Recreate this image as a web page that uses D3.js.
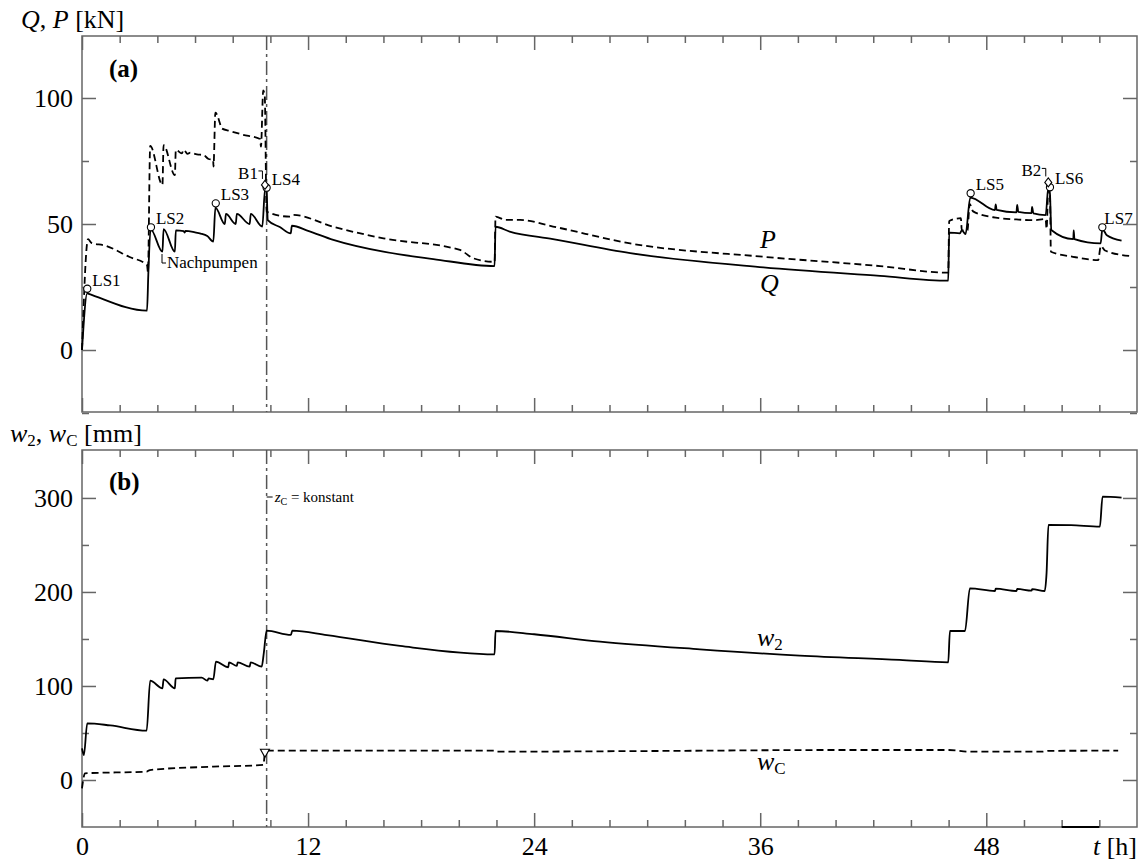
<!DOCTYPE html>
<meta charset="utf-8">
<body style="margin:0;background:#fff">
<div id="chart"></div>
<script src="https://d3js.org/d3.v7.min.js"></script>
<script>

// (a) forces, [t h, kN]
var qData = [[0,0],[0.28,22.5],[0.32,22.4],[3.45,15.6],[3.52,30],[3.64,48],[4.27,39],[4.33,48],[4.93,39],[4.98,47.5],
  [5.4,47.2],[5.45,46.6],[5.5,47.3],[6.0,46.7],[6.3,46.2],[6.65,45.2],[6.97,43],[7.08,56.5],[7.58,50],[7.64,54],[8.16,50],[8.22,54],
  [8.9,50],[8.96,54],[9.57,49],[9.72,64],[9.8,63],[9.86,51.5],[10.5,48.8],[11.08,46.3],[11.14,49.3],[12.0,47.3],
  [13.34,43.7],[16.0,39],[18.65,36.1],[21.9,33.3],[21.95,48.9],[22.7,47],[25,44],[29.1,38.4],[36.17,32.8],[42.36,29.4],
  [45.98,27.5],[46.03,46.6],[46.6,46.3],[46.7,47.5],[46.9,46],[47.15,60.5],[48.46,55.5],[48.5,57.8],[48.55,55.6],[49.6,54.6],
  [49.64,57.6],[49.7,54.8],[50.4,54.3],[50.43,56.8],[50.5,54.2],[51.15,53.5],[51.3,65],[51.38,62],[51.45,47.6],[52.62,44],
  [52.64,47.5],[52.68,44],[54.07,42.3],[54.16,48],[54.4,45.5],[55.18,43.4]];

var pData = [[0,0],[0.32,44],[0.5,42.5],[1.2,41.5],[2.5,37],[3.45,33.7],[3.5,31],[3.62,81],[4.27,65.5],[4.33,81.3],
  [4.93,69.4],[4.98,79.4],[5.3,78],[5.4,79.5],[5.6,77.8],[5.75,78.3],[6.1,77.6],[6.44,77.4],[6.72,75.8],[6.96,75.5],
  [6.98,72.8],[7.08,94.2],[7.32,90],[7.4,88],[7.86,86.9],[8.5,85.5],[9.45,83.7],[9.5,80.7],[9.62,103],[9.7,101],
  [9.8,54.9],[11.04,52.9],[11.2,53.6],[13.34,48.9],[16,44.3],[20.06,39.7],[20.77,36.4],[21.9,35],[21.95,52.9],
  [22.5,51.6],[23.25,51.6],[25,49],[29.1,42.3],[36.17,37],[42.36,33.3],[45.98,30.7],[46.03,51.2],[46.65,52.3],
  [46.7,47.5],[47.0,47.5],[47.12,58],[47.3,55],[48.5,52.5],[49.6,51.8],[50.5,51.5],[51.15,52],[51.2,48],[51.3,66],
  [51.38,62],[51.43,39],[52.6,37],[53.94,35.7],[54.08,41.3],[54.3,39.5],[55.6,37.3]];

// (b) displacements, [t h, mm]
var w2Data = [[0,33.7],[0.1,26.6],[0.28,60.3],[1.5,58],[3.43,52.5],[3.62,105.7],[4.27,97.5],[4.33,107],[4.93,97.5],
  [4.97,108.1],[6.35,108.9],[6.65,105.7],[6.72,108],[6.97,107.1],[7.11,125.9],[7.77,119.9],[7.8,125.2],[8.22,121.3],
  [8.26,125.2],[8.9,120.6],[8.95,125],[9.54,120.6],[9.65,135],[9.8,158.8],[11.09,154.3],[11.16,158.8],[13,154],
  [16.88,142.6],[21.9,133.7],[21.95,158.5],[24,155],[27.5,147.2],[32.8,139],[38.1,132.3],[43.4,127.7],[45.98,125.2],
  [46.07,158.5],[46.87,158.5],[47.13,203.9],[48.46,201],[48.5,203.5],[49.6,201],[49.64,203.2],[50.4,201.4],[50.44,203],
  [51.1,201],[51.2,220.3],[51.3,271.3],[52.5,271],[54.03,269.5],[54.17,301.4],[55.18,300.3]];

var wcData = [[0,-8.9],[0.16,7.1],[3.43,8.9],[3.6,10.6],[6.97,14.2],[9.63,16],[9.71,28.4],[9.89,31.2],[21.9,31.2],
  [22,30.1],[30,30.8],[40,31.9],[46,31.9],[47.13,30.1],[51,30.1],[51.3,31],[55.0,31.2]];
var wcOffData = [[52,-50],[54,-50]];

// markers
var lsNames = ["LS1","LS2","LS3","LS4","LS5","LS6","LS7"];
var lsT = [0.28,3.66,7.1,9.8,47.17,51.38,54.16];
var lsQ = [24.3,48.7,58.2,64.4,62.2,64.6,48.7];
var bNames = ["B1","B2"];
var bT = [9.71,51.29];
var bQ = [65.5,66.5];
var zcT = 9.8;        // z_C = konstant from here on
var zcMarkW = 28.4;

var xMajor = [0,12,24,36,48];
var xMinor = d3.range(2,56,2).filter(function(d){ return d % 12 != 0; });
var yTopMajor = [0,50,100];
var yTopMinor = [-25,25,75];
var yBotMajor = [0,100,200,300];
var yBotMinor = [50,150,250];

var W = 1141, H = 861;
var font = "Liberation Serif, Times New Roman, serif";
var frameCol = "#666";

var svg = d3.select("#chart").append("svg")
  .attr("width", W).attr("height", H)
  .style("font-family", font);

var x = d3.scaleLinear().domain([0,56]).range([82,1137]);
var yA = d3.scaleLinear().domain([-24.6,124.6]).range([412,36]);
var yB = d3.scaleLinear().domain([-50,351]).range([827,450]);

function frame(y, top, bottom, yMaj, yMin) {
  var g = svg.append("g");
  // x ticks, top edge (pointing down) and bottom edge (pointing up)
  g.append("g").attr("transform","translate(0,"+top+")")
    .call(d3.axisBottom(x).tickValues(xMajor).tickSize(14).tickFormat(""));
  g.append("g").attr("transform","translate(0,"+top+")")
    .call(d3.axisBottom(x).tickValues(xMinor).tickSize(7).tickFormat(""));
  g.append("g").attr("transform","translate(0,"+bottom+")")
    .call(d3.axisTop(x).tickValues(xMajor).tickSize(14).tickFormat(""));
  g.append("g").attr("transform","translate(0,"+bottom+")")
    .call(d3.axisTop(x).tickValues(xMinor).tickSize(7).tickFormat(""));
  // y ticks left and right
  g.append("g").attr("transform","translate(82,0)")
    .call(d3.axisRight(y).tickValues(yMaj).tickSize(14).tickFormat(""));
  g.append("g").attr("transform","translate(82,0)")
    .call(d3.axisRight(y).tickValues(yMin).tickSize(7).tickFormat(""));
  g.append("g").attr("transform","translate(1137,0)")
    .call(d3.axisLeft(y).tickValues(yMaj).tickSize(14).tickFormat(""));
  g.append("g").attr("transform","translate(1137,0)")
    .call(d3.axisLeft(y).tickValues(yMin).tickSize(7).tickFormat(""));
  g.selectAll(".domain").remove();
  g.selectAll(".tick line").attr("stroke", frameCol).attr("stroke-width", 1.5);
  // labels
  var lab = g.append("g").attr("transform","translate(82,0)")
    .call(d3.axisLeft(y).tickValues(yMaj).tickSize(0).tickPadding(9).tickFormat(d3.format("d")));
  lab.select(".domain").remove();
  lab.selectAll("text").attr("font-family", font).attr("font-size", 26).attr("fill","#000");
  g.append("rect").attr("x",82).attr("y",top).attr("width",1137-82).attr("height",bottom-top)
    .attr("fill","none").attr("stroke",frameCol).attr("stroke-width",1.5);
  return g;
}

frame(yA, 36, 412, yTopMajor, yTopMinor);
frame(yB, 450, 827, yBotMajor, yBotMinor);

// x labels
var xl = svg.append("g").attr("transform","translate(0,827)")
  .call(d3.axisBottom(x).tickValues(xMajor).tickSize(0).tickPadding(10).tickFormat(d3.format("d")));
xl.select(".domain").remove();
xl.selectAll("text").attr("font-family", font).attr("font-size", 26).attr("fill","#000");

// dash-dot lines at z_C
[[36,412],[450,827]].forEach(function(r) {
  svg.append("line").attr("x1",x(zcT)).attr("x2",x(zcT)).attr("y1",r[0]).attr("y2",r[1])
    .attr("stroke","#555").attr("stroke-width",1.5).attr("stroke-dasharray","14,4,3,4");
});

function curve(data, y, dash) {
  svg.append("path").datum(data)
    .attr("d", d3.line().curve(d3.curveMonotoneX)
      .x(function(d){return x(d[0]);}).y(function(d){return y(d[1]);}))
    .attr("fill","none").attr("stroke","#000").attr("stroke-width",1.8)
    .attr("stroke-linejoin","round")
    .attr("stroke-dasharray", dash || null);
}

curve(pData, yA, "7,4");
curve(qData, yA);
curve(w2Data, yB);
curve(wcData, yB, "7,4");
curve(wcOffData, yB);

// LS markers
lsNames.forEach(function(n, i) {
  var cx = x(lsT[i]), cy = yA(lsQ[i]);
  svg.append("circle").attr("cx",cx).attr("cy",cy).attr("r",3.6)
    .attr("fill","#fff").attr("stroke","#000").attr("stroke-width",1.1);
  svg.append("text").attr("x", cx + (i == 6 ? 2 : 5)).attr("y", cy - 3)
    .attr("font-size",17).text(n);
});

// B markers
bNames.forEach(function(n, i) {
  var cx = x(bT[i]), cy = yA(bQ[i]);
  svg.append("path").attr("d","M"+cx+","+(cy-4.5)+"L"+(cx+3.5)+","+cy+"L"+cx+","+(cy+4.5)+"L"+(cx-3.5)+","+cy+"Z")
    .attr("fill","#fff").attr("stroke","#000").attr("stroke-width",1.1);
  svg.append("text").attr("x", cx - 7).attr("y", cy - 6).attr("text-anchor","end")
    .attr("font-size",17).text(n);
  svg.append("path").attr("d","M"+(cx-6.5)+","+(cy-14)+"H"+(cx-2.5)+"V"+(cy-6))
    .attr("fill","none").attr("stroke","#000").attr("stroke-width",1);
});

// Nachpumpen note
var np = {x: 162, y: 263};
svg.append("path").attr("d","M"+np.x+","+(np.y-9)+"V"+np.y+"H"+(np.x+4))
  .attr("fill","none").attr("stroke","#000").attr("stroke-width",1);
svg.append("text").attr("x",np.x+5).attr("y",np.y+5).attr("font-size",17).text("Nachpumpen");

// z_C marker triangle
var tx = x(9.71), ty = yB(zcMarkW);
svg.append("path").attr("d","M"+(tx-4.5)+","+(ty-4)+"H"+(tx+4.5)+"L"+tx+","+(ty+4)+"Z")
  .attr("fill","#fff").attr("stroke","#000").attr("stroke-width",1.1);

// z_C = konstant
svg.append("line").attr("x1",x(zcT)).attr("x2",x(zcT)+6).attr("y1",497).attr("y2",497)
  .attr("stroke","#000").attr("stroke-width",1);
var zt = svg.append("text").attr("x",x(zcT)+8).attr("y",502).attr("font-size",15);
zt.append("tspan").attr("font-style","italic").text("z");
zt.append("tspan").attr("font-size",10).attr("dy",3).text("C");
zt.append("tspan").attr("dy",-3).text(" = konstant");

// panel titles
svg.append("text").attr("x",109).attr("y",77).attr("font-size",25).attr("font-weight","bold").text("(a)");
svg.append("text").attr("x",109).attr("y",490).attr("font-size",25).attr("font-weight","bold").text("(b)");

// axis titles
var ta = svg.append("text").attr("x",21).attr("y",28).attr("font-size",26);
ta.append("tspan").attr("font-style","italic").text("Q");
ta.append("tspan").text(", ");
ta.append("tspan").attr("font-style","italic").text("P");
ta.append("tspan").text(" [kN]");

var tb = svg.append("text").attr("x",10).attr("y",442).attr("font-size",26);
tb.append("tspan").attr("font-style","italic").text("w");
tb.append("tspan").attr("font-size",17).attr("dy",4).text("2");
tb.append("tspan").attr("dy",-4).text(", ");
tb.append("tspan").attr("font-style","italic").text("w");
tb.append("tspan").attr("font-size",17).attr("dy",4).text("C");
tb.append("tspan").attr("dy",-4).text(" [mm]");

var tt = svg.append("text").attr("x",1137).attr("y",855).attr("font-size",26).attr("text-anchor","end");
tt.append("tspan").attr("font-style","italic").text("t");
tt.append("tspan").text(" [h]");

// curve labels
svg.append("text").attr("x",760).attr("y",248).attr("font-size",26).attr("font-style","italic").text("P");
svg.append("text").attr("x",760).attr("y",292).attr("font-size",26).attr("font-style","italic").text("Q");
var l2 = svg.append("text").attr("x",757).attr("y",646).attr("font-size",26);
l2.append("tspan").attr("font-style","italic").text("w");
l2.append("tspan").attr("font-size",17).attr("dy",4).text("2");
var lc = svg.append("text").attr("x",757).attr("y",770).attr("font-size",26);
lc.append("tspan").attr("font-style","italic").text("w");
lc.append("tspan").attr("font-size",17).attr("dy",4).text("C");

</script>
